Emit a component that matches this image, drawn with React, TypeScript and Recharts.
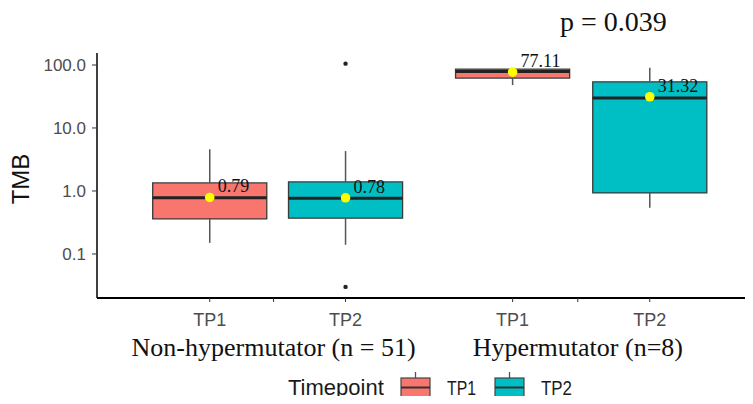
import React from 'react';
import { ComposedChart, XAxis, YAxis, Scatter, ReferenceArea, ReferenceLine } from 'recharts';

// groups along the x axis
const groupLabels = ['Non-hypermutator (n = 51)', 'Hypermutator (n=8)'];
const groupCenters = [1.47, 3.71];

// one entry per box
const timepoints = ['TP1', 'TP2', 'TP1', 'TP2'];
const positions = [1, 2, 3.23, 4.24];
const lowerWhisker = [0.15, 0.14, 48, 0.54];
const q1 = [0.36, 0.37, 62, 0.93];
const median = [0.78, 0.77, 79, 30];
const q3 = [1.34, 1.39, 86, 54];
const upperWhisker = [4.6, 4.3, 86, 90];
const means = [0.79, 0.78, 77.11, 31.32];

// outliers (box index, value)
const outlierBox = [1, 1];
const outlierValue = [0.03, 105];

const yTicks = [0.1, 1, 10, 100];
const pValue = 'p = 0.039';

const fills: Record<string, string> = { TP1: '#F8766D', TP2: '#00BFC4' };
const HALF = 0.42;
const SANS = '"Liberation Sans", Arial, sans-serif';
const SERIF = '"Liberation Serif", "Times New Roman", serif';

const meanData = positions.map((x, i) => ({ x, y: means[i] }));
const outlierData = outlierBox.map((b, i) => ({ x: positions[b], y: outlierValue[i] }));

const MeanDot = (props: any) => {
  const { cx, cy, payload } = props;
  return (
    <g>
      <circle cx={cx} cy={cy} r={4.8} fill="#FFFF00" />
      <text x={cx + 8} y={cy - 5} fontSize={18} fontFamily={SERIF} fill="#111">
        {payload.y.toFixed(2)}
      </text>
    </g>
  );
};

const OutlierDot = (props: any) => <circle cx={props.cx} cy={props.cy} r={2.2} fill="#222" />;

const GroupTick = (props: any) => {
  const { x, y, payload } = props;
  const i = groupCenters.indexOf(payload.value);
  return (
    <text x={x} y={y} dy={28} textAnchor="middle" fontSize={26} fontFamily={SERIF} fill="#111">
      {groupLabels[i]}
    </text>
  );
};

const tpFormatter = (v: number) => {
  const i = positions.indexOf(v);
  return i >= 0 ? timepoints[i] : '';
};

const TmbLabel = (props: any) => {
  const vb = props.viewBox || { x: 0, y: 53, height: 245 };
  const x = vb.x + 29;
  const y = vb.y + vb.height / 2 + 3.5;
  return (
    <text x={x} y={y} transform={`rotate(-90 ${x} ${y})`} textAnchor="middle" fontSize={24} fontFamily={SANS} fill="#111">
      TMB
    </text>
  );
};

const LegendKey = ({ x, color }: { x: number; color: string }) => (
  <g>
    <line x1={x + 14.5} x2={x + 14.5} y1={372} y2={378} stroke="#555" strokeWidth={1.3} />
    <line x1={x + 14.5} x2={x + 14.5} y1={397} y2={404} stroke="#555" strokeWidth={1.3} />
    <rect x={x} y={378} width={29} height={19} fill={color} stroke="#444" strokeWidth={1.2} />
    <line x1={x} x2={x + 29} y1={387.5} y2={387.5} stroke="#333" strokeWidth={2} />
  </g>
);

export default function App() {
  return (
    <div style={{ margin: -8, position: 'relative', width: 753, height: 404, background: '#fff' }}>
      <ComposedChart width={753} height={404} margin={{ top: 53, right: 0, bottom: 36, left: 0 }}>
        <XAxis
          type="number"
          dataKey="x"
          domain={[0.17, 5]}
          allowDataOverflow
          ticks={[positions[0], groupCenters[0], positions[1], positions[2], groupCenters[1], positions[3]]}
          tickFormatter={tpFormatter}
          height={30}
          axisLine={{ stroke: '#000', strokeWidth: 2 }}
          tickLine={{ stroke: '#333' }}
          tickSize={4}
          tickMargin={11}
          tick={{ fontSize: 18, fill: '#4d4d4d', fontFamily: SANS }}
        />
        <XAxis
          xAxisId="grp"
          type="number"
          dataKey="x"
          domain={[0.17, 5]}
          allowDataOverflow
          ticks={groupCenters}
          height={40}
          axisLine={false}
          tickLine={false}
          tickSize={0}
          tickMargin={0}
          tick={<GroupTick />}
        />
        <YAxis
          type="number"
          dataKey="y"
          scale="log"
          domain={[0.02, 155]}
          allowDataOverflow
          ticks={yTicks}
          tickFormatter={(v: number) => v.toFixed(1)}
          width={97}
          axisLine={{ stroke: '#000', strokeWidth: 1.5 }}
          tickLine={{ stroke: '#333' }}
          tickSize={5}
          tickMargin={6}
          tick={{ fontSize: 17, fill: '#4d4d4d', fontFamily: SANS }}
          label={<TmbLabel />}
        />

        {positions.map((p, i) => (
          <ReferenceLine
            key={`wu-${i}`}
            segment={[{ x: p, y: q3[i] }, { x: p, y: upperWhisker[i] }]}
            stroke="#555"
            strokeWidth={1.5}
          />
        ))}
        {positions.map((p, i) => (
          <ReferenceLine
            key={`wl-${i}`}
            segment={[{ x: p, y: lowerWhisker[i] }, { x: p, y: q1[i] }]}
            stroke="#555"
            strokeWidth={1.5}
          />
        ))}
        {positions.map((p, i) => (
          <ReferenceArea
            key={`box-${i}`}
            x1={p - HALF}
            x2={p + HALF}
            y1={q1[i]}
            y2={q3[i]}
            fill={fills[timepoints[i]]}
            fillOpacity={1}
            stroke="#3a3a3a"
            strokeWidth={1.3}
            strokeOpacity={1}
          />
        ))}
        {positions.map((p, i) => (
          <ReferenceLine
            key={`med-${i}`}
            segment={[{ x: p - HALF, y: median[i] }, { x: p + HALF, y: median[i] }]}
            stroke="#222"
            strokeWidth={3}
          />
        ))}

        <Scatter data={outlierData} shape={<OutlierDot />} isAnimationActive={false} />
        <Scatter data={meanData} shape={<MeanDot />} isAnimationActive={false} zIndex={2000} />
      </ComposedChart>

      <svg width={753} height={404} style={{ position: 'absolute', left: 0, top: 0, pointerEvents: 'none' }}>
        <text x={560} y={31} fontSize={28} fontFamily={SERIF} fill="#111">
          {pValue}
        </text>
        <text x={288} y={395} fontSize={22} fontFamily={SANS} fill="#1a1a1a">
          Timepoint
        </text>
        <LegendKey x={401} color={fills.TP1} />
        <text x={447} y={395} fontSize={20} textLength={29} lengthAdjust="spacingAndGlyphs" fontFamily={SANS} fill="#1a1a1a">
          TP1
        </text>
        <LegendKey x={495} color={fills.TP2} />
        <text x={541} y={395} fontSize={20} textLength={31} lengthAdjust="spacingAndGlyphs" fontFamily={SANS} fill="#1a1a1a">
          TP2
        </text>
      </svg>
    </div>
  );
}
